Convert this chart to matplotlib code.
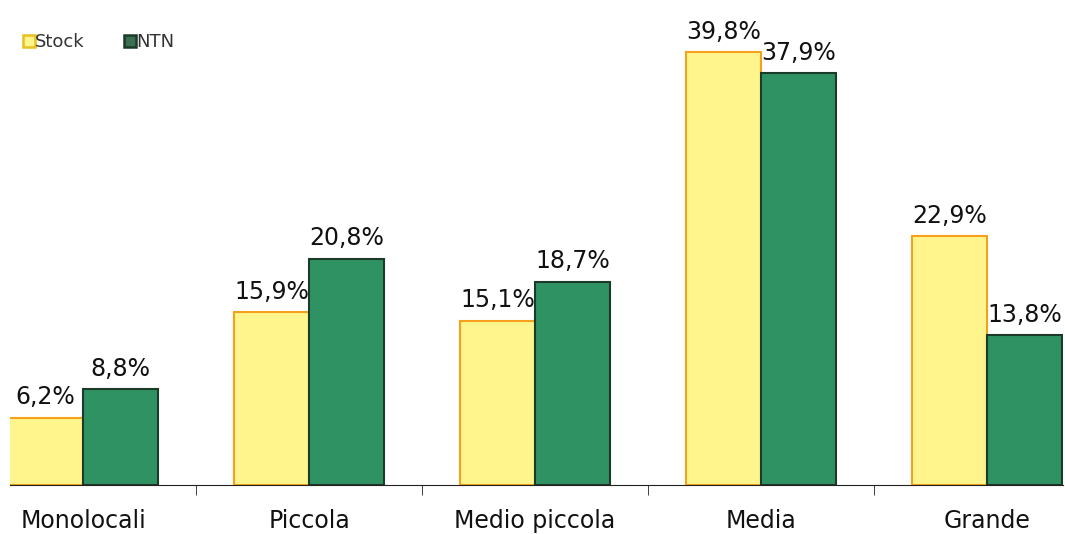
import numpy as np
import matplotlib.pyplot as plt
from matplotlib.lines import Line2D

categories = ['Monolocali', 'Piccola', 'Medio piccola', 'Media', 'Grande']
stock = [6.2, 15.9, 15.1, 39.8, 22.9]
ntn = [8.8, 20.8, 18.7, 37.9, 13.8]

yellow, yellow_edge = '#FFF58C', '#F5A11C'
green, green_edge = '#2F9262', '#1B3A28'

fig = plt.figure(figsize=(10.65, 5.34), dpi=100)
ax = fig.add_axes([10 / 1065, 49 / 534, 1053 / 1065, 485 / 534])

x = np.arange(len(categories))
w = 0.332
b1 = ax.bar(x - w / 2, stock, w, color=yellow, edgecolor=yellow_edge, linewidth=1.5)
b2 = ax.bar(x + w / 2, ntn, w, color=green, edgecolor=green_edge, linewidth=1.5)

def fmt(v):
    return f'{v:.1f}%'.replace('.', ',')

for bars, vals in ((b1, stock), (b2, ntn)):
    for r, v in zip(bars, vals):
        ax.annotate(fmt(v), (r.get_x() + r.get_width() / 2, v),
                    xytext=(0, 6), textcoords='offset points',
                    ha='center', va='bottom', fontsize=17, color='#111111')

ax.set_xlim(-0.323, 4.336)
ax.set_ylim(0, 44.6)

for s in ['top', 'right', 'left']:
    ax.spines[s].set_visible(False)
ax.spines['bottom'].set_color('#222222')
ax.set_yticks([])
ax.set_xticks(x)
ax.set_xticklabels(categories, fontsize=17, color='#111111')
ax.tick_params(axis='x', which='major', length=0, pad=17)
ax.set_xticks(x[:-1] + 0.5, minor=True)
ax.tick_params(axis='x', which='minor', length=7, direction='out', color='#222222')

handles = [
    Line2D([], [], marker='s', linestyle='none', markersize=9,
           markerfacecolor=yellow, markeredgecolor='#E8C020', markeredgewidth=1.8),
    Line2D([], [], marker='s', linestyle='none', markersize=9,
           markerfacecolor='#3C6E52', markeredgecolor='#1B3A28', markeredgewidth=1.8),
]
ax.legend(handles, ['Stock', 'NTN'], loc='upper left', bbox_to_anchor=(-0.003, 0.965),
          frameon=False, ncol=2, fontsize=13, handlelength=0.6, handletextpad=0.05,
          columnspacing=2.2, labelcolor='#333333')

fig.savefig('out.png', dpi=100)
